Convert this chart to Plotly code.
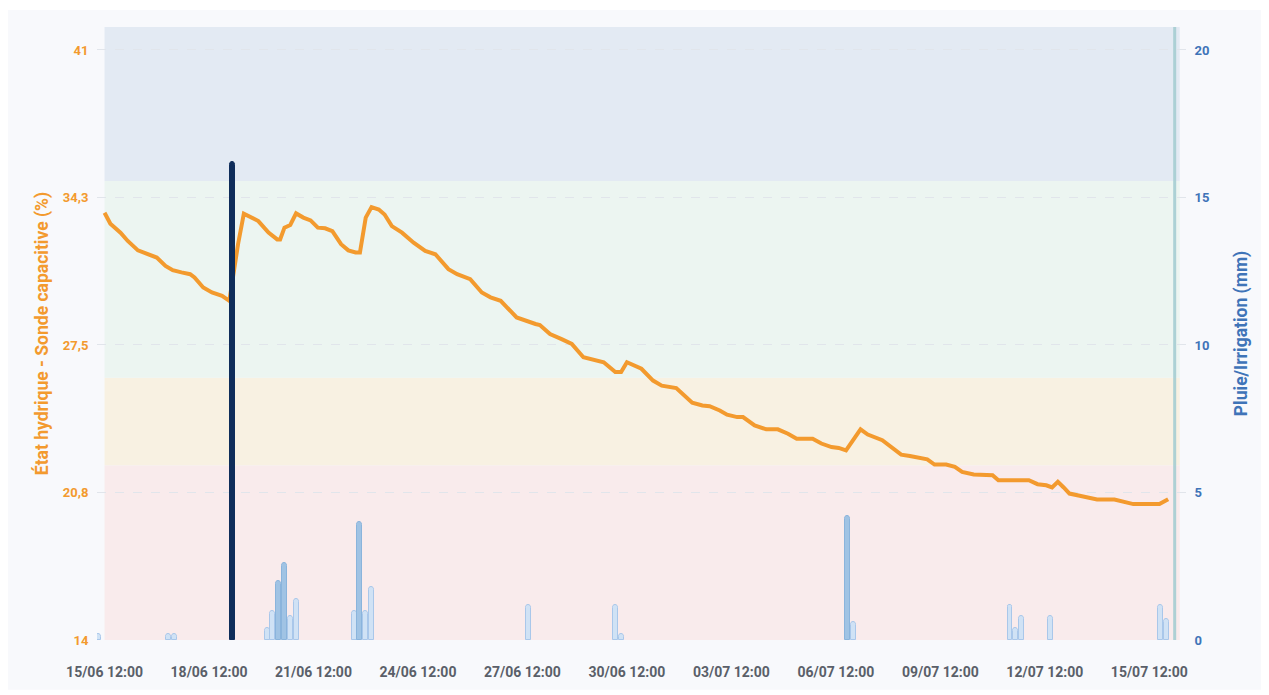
import pandas as pd
import plotly.graph_objects as go

START = "2024-06-15 12:00"

# Soil moisture (%), hours after 15/06 12:00
moist_hours = [0, 4, 11, 16, 23, 30, 36, 42, 47, 53, 59, 62, 68, 74, 81, 86, 92, 96, 101, 106,
               113, 119, 121, 124, 128, 132, 137, 142, 147, 152, 157, 163, 168, 173, 176, 180, 184, 189,
               193, 198, 205, 213, 221, 228, 237, 243, 252, 260, 266, 273, 284, 290, 297, 300, 307,
               315, 322, 330, 336, 344, 352, 356, 360, 370, 378, 384, 394, 405, 412, 417, 424, 429,
               436, 440, 448, 456, 464, 471, 477, 488, 494, 501, 506, 511, 521, 526, 536, 542, 549,
               555, 561, 567, 572, 580, 586, 591, 599, 612, 616, 637, 643, 649, 653, 657, 661, 665,
               672, 679, 684, 696, 702, 709, 727, 733]
moist_values = [33.55, 33.05, 32.64, 32.26, 31.83, 31.65, 31.50, 31.12, 30.92, 30.82, 30.74, 30.59,
                30.13, 29.90, 29.75, 29.52, 32.11, 33.51, 33.33, 33.17, 32.64, 32.33, 32.33, 32.87,
                32.99, 33.52, 33.33, 33.20, 32.87, 32.84, 32.71, 32.11, 31.83, 31.73, 31.73, 33.33,
                33.81, 33.70, 33.47, 32.94, 32.64, 32.18, 31.80, 31.65, 30.97, 30.74, 30.51, 29.90,
                29.68, 29.52, 28.76, 28.61, 28.46, 28.41, 28.00, 27.77, 27.55, 26.94, 26.83, 26.71,
                26.26, 26.26, 26.71, 26.41, 25.87, 25.64, 25.53, 24.86, 24.73, 24.70, 24.50, 24.31,
                24.20, 24.20, 23.82, 23.64, 23.64, 23.44, 23.21, 23.21, 22.99, 22.83, 22.79, 22.68,
                23.64, 23.40, 23.14, 22.83, 22.48, 22.42, 22.33, 22.27, 22.03, 22.03, 21.92, 21.69,
                21.57, 21.54, 21.31, 21.31, 21.13, 21.08, 20.98, 21.24, 20.98, 20.70, 20.60, 20.52,
                20.43, 20.43, 20.33, 20.22, 20.22, 20.44]

# Rain (mm), hours after 15/06 12:00
rain_hours = [-4, 44, 48, 112, 116, 120, 124, 128, 132, 172, 176, 180, 184, 292, 352, 356,
              512, 516, 624, 628, 632, 652, 728, 732]
rain_values = [0.2, 0.2, 0.2, 0.4, 1.0, 2.0, 2.6, 0.8, 1.4, 1.0, 4.0, 1.0, 1.8, 1.2, 1.2, 0.2,
               4.2, 0.6, 1.2, 0.4, 0.8, 0.8, 1.2, 0.7]

# Irrigation (mm)
irrig_hours = [88]
irrig_values = [16.2]

# Moisture zones (%)
zone_bounds = [14, 22, 26, 35, 42.05]
zone_colors = ["#f9ebec", "#f8f1e2", "#ecf5f1", "#e3eaf3"]
zone_end_hours = 741
now_hours = 737.5

x_ticks_days = [0, 3, 6, 9, 12, 15, 18, 21, 24, 27, 30]
x_tick_text = ["15/06 12:00", "18/06 12:00", "21/06 12:00", "24/06 12:00", "27/06 12:00",
               "30/06 12:00", "03/07 12:00", "06/07 12:00", "09/07 12:00", "12/07 12:00",
               "15/07 12:00"]
y_ticks = [14, 20.75, 27.5, 34.25, 41]
y_tick_text = ["14", "20,8", "27,5", "34,3", "41"]
y2_ticks = [0, 5, 10, 15, 20]

start = pd.Timestamp(START)
t = lambda h: start + pd.to_timedelta(h, unit="h")
moist_t = [t(h) for h in moist_hours]
rain_t = [t(h) for h in rain_hours]
irrig_t = [t(h) for h in irrig_hours]

ORANGE = "#f39a2e"
BLUE = "#3f74b8"
bar_w = 3.4 * 3600 * 1000

fig = go.Figure()

rain_fill = ["rgba(155,193,228,0.95)" if v >= 2 else "rgba(206,225,245,0.95)" for v in rain_values]
rain_line = ["#8ab4dc" if v >= 2 else "#a9c7ea" for v in rain_values]
fig.add_trace(go.Bar(x=rain_t, y=rain_values, yaxis="y2", width=bar_w,
                     marker=dict(color=rain_fill, line=dict(color=rain_line, width=1)),
                     name="Pluie", showlegend=False))
fig.add_trace(go.Bar(x=irrig_t, y=irrig_values, yaxis="y2", width=bar_w,
                     marker=dict(color="#0f2d5a", line=dict(color="#0f2d5a", width=1)),
                     name="Irrigation", showlegend=False))
fig.add_trace(go.Scatter(x=moist_t, y=moist_values, mode="lines", yaxis="y",
                         line=dict(color=ORANGE, width=4), name="Sonde", showlegend=False))

# page offset of the figure (browser body margin)
OFF = 8
W, H = 1254, 684
L, T = 97 - OFF, 27 - OFF
R = W - (1186 - OFF)
B = H - (642 - OFF)
pw, ph = W - L - R, H - T - B

shapes = []
# panel background (absolute page px: 8..1262 x 10..692)
shapes.append(dict(type="rect", xref="paper", yref="paper",
                   x0=(8 - 97) / pw, x1=(1262 - 97) / pw,
                   y0=(642 - 692) / ph, y1=(642 - 10) / ph,
                   fillcolor="#f8f9fc", line=dict(width=0), layer="below"))
for i, c in enumerate(zone_colors):
    shapes.append(dict(type="rect", xref="x", yref="y", x0=t(0), x1=t(zone_end_hours),
                       y0=zone_bounds[i], y1=zone_bounds[i + 1], fillcolor=c,
                       line=dict(width=0), layer="below"))
shapes.append(dict(type="line", xref="x", yref="paper", x0=t(now_hours), x1=t(now_hours),
                   y0=0, y1=1, line=dict(color="rgba(165,205,210,0.9)", width=3)))

fig.update_layout(
    width=W, height=H,
    margin=dict(l=L, r=R, t=T, b=B),
    paper_bgcolor="white", plot_bgcolor="rgba(0,0,0,0)",
    barmode="overlay", bargap=0,
    barcornerradius=3,
    font=dict(family="Roboto", size=12),
    shapes=shapes,
    xaxis=dict(type="date", range=[t(-5.2), t(745.3)],
               tickvals=[t(d * 24) for d in x_ticks_days], ticktext=x_tick_text,
               showgrid=False, zeroline=False, showline=False,
               ticks="outside", ticklen=19, tickcolor="rgba(0,0,0,0)",
               tickfont=dict(color="#5a5f69", size=14, weight="bold")),
    yaxis=dict(range=[14, 42.05], tickvals=y_ticks, ticktext=y_tick_text,
               showgrid=True, gridcolor="#e1e5eb", griddash="dash", gridwidth=1,
               zeroline=False, showline=False,
               ticks="outside", ticklen=5, tickcolor="rgba(0,0,0,0)",
               tickfont=dict(color="#f39a2e", size=13, weight="bold"),
               title=dict(text="État hydrique - Sonde capacitive (%)", standoff=9,
                          font=dict(color="#f39a2e", size=17.5, weight="bold"))),
    yaxis2=dict(range=[0, 20.78], tickvals=y2_ticks, overlaying="y", side="right",
                showgrid=False, zeroline=False, showline=False,
                ticks="outside", ticklen=5, tickcolor="rgba(0,0,0,0)",
                tickfont=dict(color=BLUE, size=13, weight="bold"),
                title=dict(text="Pluie/Irrigation (mm)", standoff=26,
                           font=dict(color=BLUE, size=17.5, weight="bold"))),
)

fig.write_html("out.html")
